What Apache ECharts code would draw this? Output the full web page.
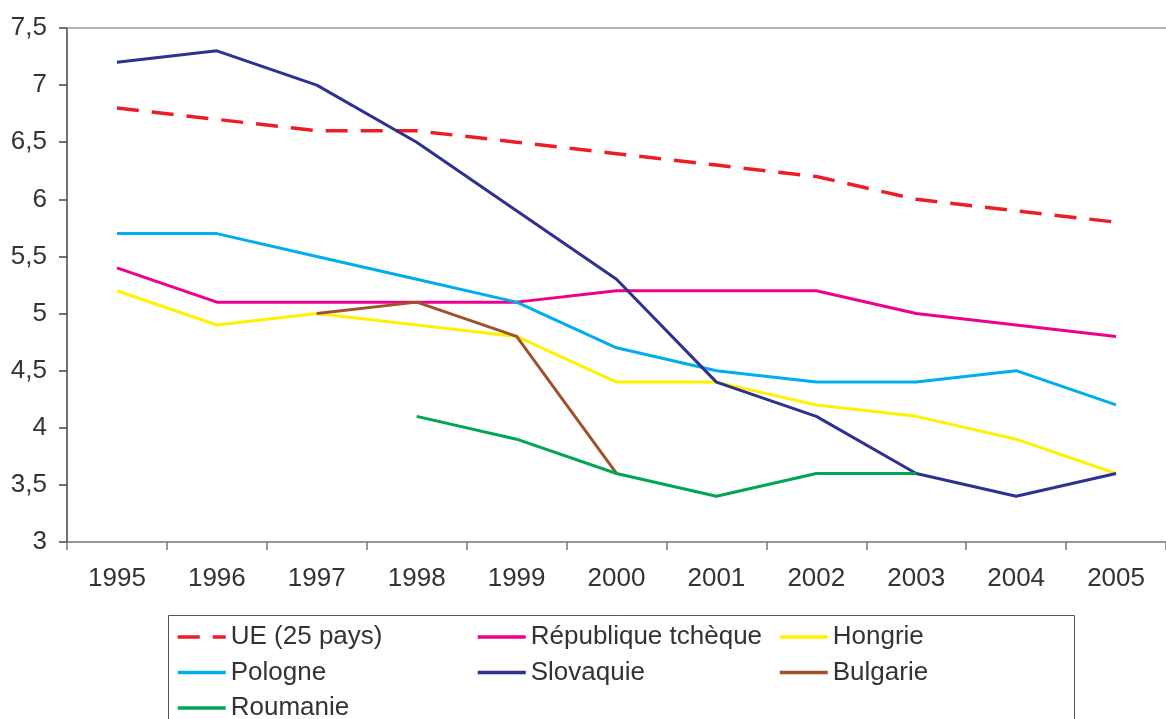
<!DOCTYPE html>
<html><head><meta charset="utf-8">
<script src="https://cdn.jsdelivr.net/npm/echarts@6/dist/echarts.min.js"></script>
<style>html,body{margin:0;padding:0;background:#fff}#c{width:1166px;height:719px}</style>
</head><body><div id="c"></div>
<script>
const years = ['1995','1996','1997','1998','1999','2000','2001','2002','2003','2004','2005'];
const ue = [6.8, 6.7, 6.6, 6.6, 6.5, 6.4, 6.3, 6.2, 6.0, 5.9, 5.8];
const tcheque = [5.4, 5.1, 5.1, 5.1, 5.1, 5.2, 5.2, 5.2, 5.0, 4.9, 4.8];
const hongrie = [5.2, 4.9, 5.0, 4.9, 4.8, 4.4, 4.4, 4.2, 4.1, 3.9, 3.6];
const pologne = [5.7, 5.7, 5.5, 5.3, 5.1, 4.7, 4.5, 4.4, 4.4, 4.5, 4.2];
const slovaquie = [7.2, 7.3, 7.0, 6.5, 5.9, 5.3, 4.4, 4.1, 3.6, 3.4, 3.6];
const bulgarie = [null, null, 5.0, 5.1, 4.8, 3.6, null, null, null, null, null];
const roumanie = [null, null, null, 4.1, 3.9, 3.6, 3.4, 3.6, 3.6, null, null];

const FONT = '"Liberation Sans", Arial, sans-serif';
const TXT = '#333';
function ser(name, data, color, dashed) {
  return {
    name, type: 'line', data, symbol: 'none', connectNulls: false,
    lineStyle: { color, width: dashed ? 3.5 : 3, type: dashed ? [22, 13] : 'solid' },
    itemStyle: { color }, animation: false
  };
}
const legendCommon = {
  orient: 'vertical', top: 624, height: 120, padding: 0,
  itemWidth: 48, itemHeight: 14, itemGap: 9.5,
  itemStyle: { opacity: 0 },
  lineStyle: { width: 3.5 },
  textStyle: { fontFamily: FONT, fontSize: 26, color: TXT, lineHeight: 26 },
  selectedMode: false
};
const chart = echarts.init(document.getElementById('c'), null, { renderer: 'canvas' });
chart.setOption({
  backgroundColor: '#fff',
  animation: false,
  grid: { left: 67, top: 28, width: 1108, height: 514 },
  legend: [
    Object.assign({}, legendCommon, { left: 176, data: ['UE (25 pays)', 'Pologne', 'Roumanie'] }),
    Object.assign({}, legendCommon, { left: 476, data: ['République tchèque', 'Slovaquie'] }),
    Object.assign({}, legendCommon, { left: 778, data: ['Hongrie', 'Bulgarie'] })
  ],
  graphic: [{
    type: 'rect', shape: { x: 168.5, y: 615.5, width: 906, height: 130 },
    style: { fill: 'none', stroke: '#555', lineWidth: 1 }, silent: true, z: -1
  }],
  xAxis: [{
    type: 'category', data: years, boundaryGap: true,
    axisLine: { lineStyle: { color: '#777', width: 1.5 } },
    axisTick: { show: true, length: 8, lineStyle: { color: '#777', width: 1.5 } },
    axisLabel: { fontFamily: FONT, fontSize: 26, color: TXT, margin: 24 }
  }, {
    type: 'category', data: years, position: 'top',
    axisLine: { lineStyle: { color: '#999', width: 1.5 } },
    axisTick: { show: false }, axisLabel: { show: false }
  }],
  yAxis: {
    type: 'value', min: 3, max: 7.5, interval: 0.5,
    axisLine: { show: true, lineStyle: { color: '#444', width: 1.5 } },
    axisTick: { show: true, length: 8, lineStyle: { color: '#444', width: 1.5 } },
    splitLine: { show: false },
    axisLabel: { fontFamily: FONT, fontSize: 26, color: TXT, margin: 20,
      formatter: v => String(v).replace('.', ',') }
  },
  series: [
    ser('UE (25 pays)', ue, '#ee1c25', true),
    ser('République tchèque', tcheque, '#ec008c'),
    ser('Hongrie', hongrie, '#fff200'),
    ser('Pologne', pologne, '#00aeef'),
    ser('Slovaquie', slovaquie, '#2e3192'),
    ser('Bulgarie', bulgarie, '#a0522d'),
    ser('Roumanie', roumanie, '#00a651')
  ]
});
</script></body></html>
